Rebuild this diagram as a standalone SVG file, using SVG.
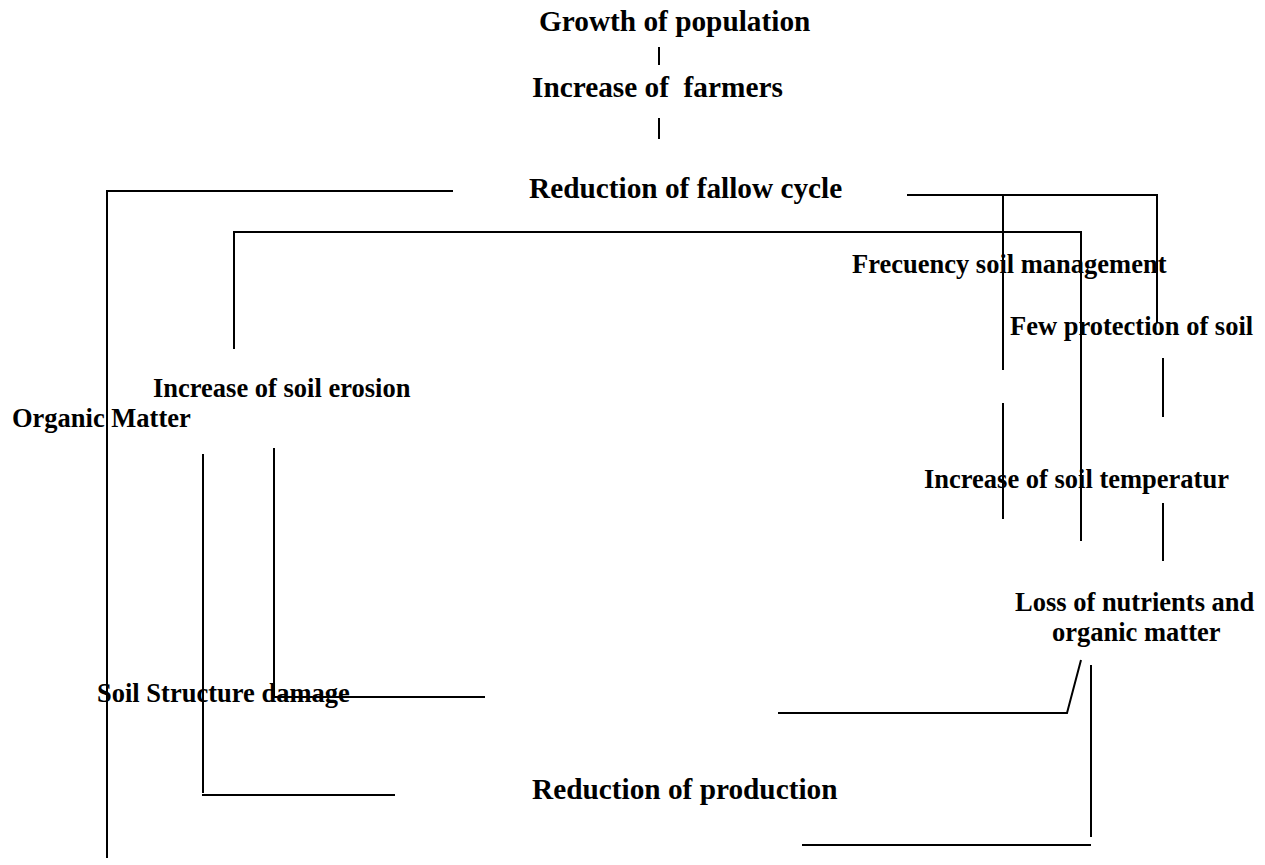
<svg xmlns="http://www.w3.org/2000/svg" width="1265" height="865" viewBox="0 0 1265 865">
<style>
text{font-family:"Liberation Serif","Times New Roman",serif;font-weight:bold;fill:#000;white-space:pre}
.big{font-size:29.3px}
.sm{font-size:26.5px}
.ln{fill:none;stroke:#000;stroke-width:2}
</style>
<rect x="0" y="0" width="1265" height="865" fill="#fff"/>
<g id="connectors" class="ln">
<path class="ln" d="M659,47 V65"/>
<path class="ln" d="M659,118 V139"/>
<path class="ln" d="M453,191 H107 V858"/>
<path class="ln" d="M234,349 V232 H1081 V541"/>
<path class="ln" d="M907,195 H1157 V323"/>
<path class="ln" d="M1003,195 V370"/>
<path class="ln" d="M1003,403 V519"/>
<path class="ln" d="M1163,358 V417"/>
<path class="ln" d="M1163,503 V561"/>
<path class="ln" d="M1081,660 L1067,713 H778"/>
<path class="ln" d="M1091,665 V837"/>
<path class="ln" d="M802,845 H1091"/>
<path class="ln" d="M274,448 V697 H485"/>
<path class="ln" d="M203,454 V793"/>
<path class="ln" d="M202,795 H395"/>
</g>
<g id="n-growth"><text class="big" x="539" y="31">Growth of population</text></g>
<g id="n-farmers"><text class="big" x="532" y="97" xml:space="preserve">Increase of  farmers</text></g>
<g id="n-fallow"><text class="big" x="529" y="198">Reduction of fallow cycle</text></g>
<g id="n-frecuency"><text class="sm" x="852" y="273">Frecuency soil management</text></g>
<g id="n-protection"><text class="sm" x="1010" y="335">Few protection of soil</text></g>
<g id="n-erosion"><text class="sm" x="153" y="397">Increase of soil erosion</text></g>
<g id="n-organic"><text class="sm" x="12" y="427">Organic Matter</text></g>
<g id="n-temperature"><text class="sm" x="924" y="488">Increase of soil temperatur</text></g>
<g id="n-nutrients"><text class="sm" x="1015" y="611">Loss of nutrients and</text><text class="sm" x="1052" y="641">organic matter</text></g>
<g id="n-structure"><text class="sm" x="97" y="702">Soil Structure damage</text></g>
<g id="n-production"><text class="big" x="532" y="799">Reduction of production</text></g>
</svg>
